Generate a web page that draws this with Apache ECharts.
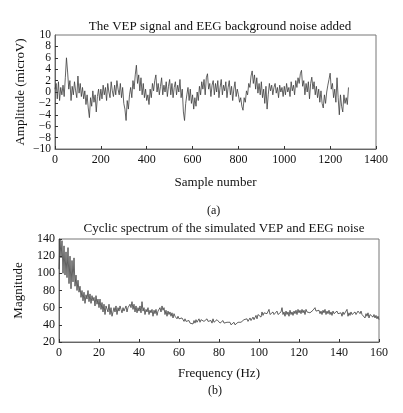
<!DOCTYPE html>
<html><head><meta charset="utf-8">
<script src="https://cdn.jsdelivr.net/npm/echarts@6/dist/echarts.min.js"></script>
<style>html,body{margin:0;padding:0;background:#fff}#c{width:403px;height:413px}</style>
</head><body><div id="c"></div>
<script>
// Top panel: amplitude every 5 samples (0..1280)
const sampleStep = 5;
const vepAmplitude = [
0.5,1.5,-1.2,1.8,-1.5,0.8,-0.5,1.2,-0.8,2.5,6,3.5,0.5,2,-1.5,1,-0.5,1.8,0.2,-1,
2.8,-0.2,1.5,-0.8,0.8,-1.2,0.2,-2.2,-0.5,-2.8,-4.5,-1,-2.5,0.2,-1.8,-0.5,-3.5,-0.8,0.5,-1.5,
0.5,-1.2,1.2,-0.5,0.8,-1.5,1.5,0,-1,1.8,0.2,-0.8,1.2,-0.5,2,0.5,-0.5,1.5,-1,0.8,
-2,-3,-5,-1.5,-3,-0.5,0.8,-1,2,0.5,3,4.7,1.5,3,0.2,2.5,-0.5,1.5,-1,0.5,
-1.5,-0.5,-2.2,0.5,-1,1.5,0.2,2,3,0,1.5,-0.5,1,2.5,-0.5,1.2,0,1.8,-0.8,1,
2.2,-0.5,1.5,-1,0.8,1.8,-0.5,1.2,0,2.2,-1,0.5,-3.5,-5,-2,-0.5,0.8,-1.5,0.5,-2,
-0.5,-3,-1,-2.5,0,-1.5,1,-0.5,1.8,0.5,2.2,-0.5,2.5,3.2,0.5,1.5,-0.8,1.2,2,-0.5,
1.5,0,2,-1,0.8,2.2,-0.5,1.2,0.2,1.8,-1,0.8,2,-0.5,1,-1.5,0.5,1.8,-0.8,0.5,
-0.5,-1.8,-1,-2.5,-3.2,-1,-1.8,0.2,-0.5,1.5,0.8,2.8,3.7,1.5,3,0.5,2.5,-0.2,1.5,-0.5,
1.8,-1,0.5,-2,1,-3,-0.5,1.5,0.2,1.2,-0.5,0.8,1.5,-0.2,0.8,-1,1.2,0,0.8,-0.8,
1,-0.5,1.5,0,0.8,-0.8,1.8,0.2,1.2,-0.5,2,0.8,2.5,1.5,3.2,3.8,1,2,-0.5,1.5,
0,1.8,-1.2,1.5,2.6,0.5,1.8,-0.5,1,-1,0.5,-1.8,0.2,-2,-2.8,-0.5,-2,0,1.2,2.2,
3.3,0.5,1.5,-1,0.5,-1.8,2.5,-1,-4,-0.5,-2.5,-3.5,-0.5,-2,-1,-2.2,0.8
];
// Bottom panel: magnitude every 0.5 Hz (0..160)
const freqStep = 0.5;
const spectrumMag = [
105,140,118,138,100,132,98,125,95,130,88,120,82,115,90,118,85,98,80,92,
78,85,72,80,68,78,65,75,70,80,67,76,65,74,68,72,62,74,64,70,
60,70,58,66,55,64,52,62,60,55,64,52,60,50,48,60,55,62,52,60,
56,62,58,54,60,56,58,62,55,60,58,64,60,67,58,64,55,62,54,60,
56,62,54,67,56,60,52,58,55,60,52,57,54,58,50,57,53,58,51,56,
54,60,55,62,57,60,52,57,50,56,52,55,50,54,48,53,50,52,47,50,
47,49,45,48,46,44,47,44,46,43,45,42,44,43,41,45,42,46,43,45,
47,43,46,44,47,44,46,42,47,44,46,43,45,42,47,43,45,42,46,44,
45,42,44,43,45,42,44,41,43,44,41,43,40,42,41,43,40,42,41,43,
42,44,43,45,43,46,44,45,47,44,46,48,45,47,49,46,48,51,47,52,
50,53,49,55,51,54,52,56,53,55,58,52,54,50,55,52,54,50,56,52,
54,51,55,60,52,55,50,56,52,55,50,57,52,55,51,56,53,57,52,58,
54,57,53,58,54,57,52,58,55,53,57,54,56,53,57,55,60,56,58,54,
57,53,56,52,57,54,58,52,56,53,57,52,55,51,56,53,55,52,56,53,
55,51,54,50,55,52,54,51,58,50,54,51,55,52,54,51,55,52,54,56,
58,53,56,52,54,50,48,53,50,54,48,52,50,54,49,52,48,51,47,50,46
];
const xTicksTop = {min:0, max:1400, interval:200};
const yTicksTop = {min:-10, max:10, interval:2};
const xTicksBot = {min:0, max:160, interval:20};
const yTicksBot = {min:20, max:140, interval:20};

const topData = vepAmplitude.map((v,i)=>[i*sampleStep, v]);
const botData = spectrumMag.map((v,i)=>[i*freqStep, v]);

const FONT = '"Liberation Serif","DejaVu Serif",serif';
const minus = v => String(v).replace('-', '\u2212');
const plain = v => String(v);
function axis(extra, labelExtra){
  return Object.assign({
    type:'value',
    axisLine:{show:true, onZero:false, lineStyle:{color:'#666', width:1}},
    axisTick:{show:true, inside:true, length:3, lineStyle:{color:'#333'}},
    splitLine:{show:false},
    axisLabel:Object.assign({color:'#111', fontFamily:FONT, fontSize:12, margin:5, formatter:plain}, labelExtra||{}),
    nameTextStyle:{color:'#111', fontFamily:FONT, fontSize:13},
    nameLocation:'middle'
  }, extra);
}
const chart = echarts.init(document.getElementById('c'), null, {renderer:'canvas'});
chart.setOption({
  animation:false,
  backgroundColor:'#fff',
  title:[
    {text:'The VEP signal and EEG background noise added', left:215, textAlign:'center', top:15,
     textStyle:{fontFamily:FONT, fontSize:13, fontWeight:'normal', color:'#111'}},
    {text:'Cyclic spectrum of the simulated VEP and EEG noise', left:219, textAlign:'center', top:217,
     textStyle:{fontFamily:FONT, fontSize:13, fontWeight:'normal', color:'#111'}}
  ],
  grid:[
    {left:55, right:27, top:35, height:114, show:true, borderColor:'#777', borderWidth:1, backgroundColor:'transparent'},
    {left:59, right:24, top:239, height:103, show:true, borderColor:'#777', borderWidth:1, backgroundColor:'transparent'}
  ],
  xAxis:[
    axis({gridIndex:0, min:xTicksTop.min, max:xTicksTop.max, interval:xTicksTop.interval, name:'Sample number', nameGap:27},
      {showMinLabel:true, showMaxLabel:true}),
    axis({gridIndex:1, min:xTicksBot.min, max:xTicksBot.max, interval:xTicksBot.interval, name:'Frequency (Hz)', nameGap:25},
      {showMinLabel:true, showMaxLabel:true})
  ],
  yAxis:[
    axis({gridIndex:0, min:yTicksTop.min, max:yTicksTop.max, interval:yTicksTop.interval, name:'Amplitude (microV)', nameGap:28},
      {formatter:minus, margin:4, fontSize:11.5, showMinLabel:false, showMaxLabel:false}),
    axis({gridIndex:1, min:yTicksBot.min, max:yTicksBot.max, interval:yTicksBot.interval, name:'Magnitude', nameGap:34},
      {margin:4}),
    // end labels (−10 and 10) for the top panel
    {type:'value', gridIndex:0, position:'left', min:yTicksTop.min, max:yTicksTop.max, interval:yTicksTop.max - yTicksTop.min,
     axisLine:{show:false}, axisTick:{show:false}, splitLine:{show:false},
     axisLabel:{color:'#111', fontFamily:FONT, fontSize:11.5, margin:4, formatter:minus, showMinLabel:true, showMaxLabel:true}}
  ],
  series:[
    {type:'line', xAxisIndex:0, yAxisIndex:0, data:topData, showSymbol:false, symbol:'none',
     lineStyle:{color:'#3c3c3c', width:0.8}},
    {type:'line', xAxisIndex:1, yAxisIndex:1, data:botData, showSymbol:false, symbol:'none',
     lineStyle:{color:'#3c3c3c', width:0.8}}
  ],
  graphic:[
    {type:'text', left:207, top:205, style:{text:'(a)', font:'12px '+FONT, fill:'#111'}},
    {type:'text', left:208, top:385, style:{text:'(b)', font:'12px '+FONT, fill:'#111'}}
  ]
});
</script></body></html>
